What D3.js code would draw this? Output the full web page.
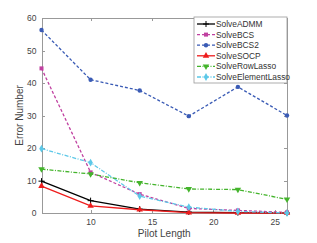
<!DOCTYPE html>
<meta charset="utf-8">
<style>
body { margin: 0; background: #fff; font-family: "Liberation Sans", Arial, sans-serif; }
.axis text { font-size: 8.5px; fill: #444; }
.axis path, .axis line { stroke: #999; fill: none; shape-rendering: crispEdges; }
</style>
<body>
<script src="https://d3js.org/d3.v7.min.js"></script>
<script>
var width = 317, height = 243;
var margin = {left: 41.5, right: 30, top: 18, bottom: 30};

var pilot = [6, 10, 14, 18, 22, 26];
var xTicks = [10, 15, 20, 25];
var yTicks = [0, 10, 20, 30, 40, 50, 60];

var admm = [9.8, 3.8, 1.2, 0.3, 0.1, 0];
var bcs = [44.5, 12.5, 5.8, 1.4, 0.8, 0.2];
var bcs2 = [56.3, 41, 37.7, 29.8, 38.8, 30];
var socp = [8.3, 2.2, 1.0, 0.1, 0, 0];
var rowLasso = [13.5, 12, 9.3, 7.4, 7.2, 4.2];
var elemLasso = [19.8, 15.5, 5.2, 1.8, 0.5, 0];

var series = [
  {name: 'SolveADMM', vals: admm, color: '#000000', dash: null, marker: 'plus'},
  {name: 'SolveBCS', vals: bcs, color: '#c040a0', dash: '3,2', marker: 'square'},
  {name: 'SolveBCS2', vals: bcs2, color: '#3a5bb5', dash: '3,2', marker: 'circle'},
  {name: 'SolveSOCP', vals: socp, color: '#ee1c1c', dash: null, marker: 'triUp'},
  {name: 'SolveRowLasso', vals: rowLasso, color: '#44b42c', dash: '4,1.5,1,1.5', marker: 'triDown'},
  {name: 'SolveElementLasso', vals: elemLasso, color: '#5cc8e8', dash: '4,1.5,1,1.5', marker: 'diamond'}
];

var svg = d3.select('body').append('svg')
  .attr('width', width).attr('height', height);

var x = d3.scaleLinear().domain([6, 26]).range([margin.left, width - margin.right]);
var y = d3.scaleLinear().domain([0, 60]).range([height - margin.bottom, margin.top]);

// box + ticks (inside, matlab style)
svg.append('g').attr('class', 'axis')
  .attr('transform', 'translate(0,' + y(0) + ')')
  .call(d3.axisBottom(x).tickValues(xTicks).tickSize(-3).tickPadding(6));
svg.append('g').attr('class', 'axis')
  .attr('transform', 'translate(0,' + y(60) + ')')
  .call(d3.axisTop(x).tickValues(xTicks).tickSize(-3).tickFormat(''));
svg.append('g').attr('class', 'axis')
  .attr('transform', 'translate(' + x(6) + ',0)')
  .call(d3.axisLeft(y).tickValues(yTicks).tickSize(-3).tickPadding(5));
svg.append('g').attr('class', 'axis')
  .attr('transform', 'translate(' + x(26) + ',0)')
  .call(d3.axisRight(y).tickValues(yTicks).tickSize(-3).tickFormat(''));

var line = d3.line().x(function(d, i) { return x(pilot[i]); }).y(function(d) { return y(d); });

function drawMarker(g, type, cx, cy, color) {
  if (type === 'plus') {
    g.append('path').attr('d', 'M' + (cx - 3) + ',' + cy + 'H' + (cx + 3) + 'M' + cx + ',' + (cy - 3) + 'V' + (cy + 3))
      .attr('stroke', color).attr('stroke-width', 1);
  } else if (type === 'square') {
    g.append('rect').attr('x', cx - 2).attr('y', cy - 2).attr('width', 4).attr('height', 4).attr('fill', color);
  } else if (type === 'circle') {
    g.append('circle').attr('cx', cx).attr('cy', cy).attr('r', 2.2).attr('fill', color);
  } else if (type === 'triUp') {
    g.append('path').attr('d', d3.symbol().type(d3.symbolTriangle).size(18)()).attr('transform', 'translate(' + cx + ',' + cy + ')').attr('fill', color);
  } else if (type === 'triDown') {
    g.append('path').attr('d', d3.symbol().type(d3.symbolTriangle).size(18)()).attr('transform', 'translate(' + cx + ',' + cy + ') rotate(180)').attr('fill', color);
  } else if (type === 'diamond') {
    g.append('path').attr('d', d3.symbol().type(d3.symbolDiamond).size(18)()).attr('transform', 'translate(' + cx + ',' + cy + ')').attr('fill', color);
  }
}

series.forEach(function(s) {
  var g = svg.append('g');
  g.append('path').datum(s.vals).attr('d', line)
    .attr('fill', 'none').attr('stroke', s.color).attr('stroke-width', 1.3)
    .attr('stroke-dasharray', s.dash);
  s.vals.forEach(function(v, i) { drawMarker(g, s.marker, x(pilot[i]), y(v), s.color); });
});

// labels
svg.append('text').attr('x', (x(6) + x(26)) / 2).attr('y', 237).attr('text-anchor', 'middle')
  .attr('font-size', 10).attr('fill', '#444').text('Pilot Length');
svg.append('text').attr('transform', 'translate(23,' + ((y(0) + y(60)) / 2) + ') rotate(-90)')
  .attr('text-anchor', 'middle').attr('font-size', 10).attr('fill', '#444').text('Error Number');

// legend
var lx = 194, ly = 17, lw = x(26) - lx, lh = 66;
var leg = svg.append('g');
leg.append('rect').attr('x', lx).attr('y', ly).attr('width', lw).attr('height', lh)
  .attr('fill', '#fff').attr('stroke', '#999').attr('stroke-width', 0.8);
series.forEach(function(s, i) {
  var yy = ly + 7 + i * 10.6;
  leg.append('line').attr('x1', lx + 3).attr('x2', lx + 21).attr('y1', yy).attr('y2', yy)
    .attr('stroke', s.color).attr('stroke-width', 1.3).attr('stroke-dasharray', s.dash);
  drawMarker(leg, s.marker, lx + 12, yy, s.color);
  leg.append('text').attr('x', lx + 22).attr('y', yy + 3).attr('font-size', 8.4).attr('fill', '#333').text(s.name);
});
</script>
</body>
